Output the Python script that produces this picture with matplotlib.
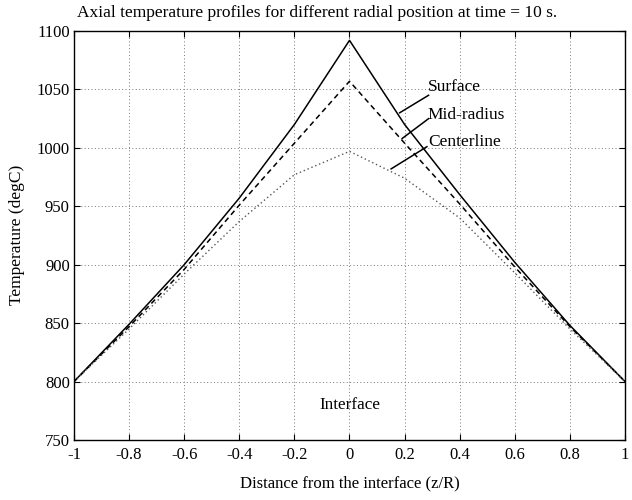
import matplotlib
matplotlib.use("Agg")
import matplotlib.pyplot as plt

# Axial positions (z/R) and temperatures (degC) at t = 10 s
z = [-1.0, -0.8, -0.6, -0.4, -0.2, 0.0, 0.2, 0.4, 0.6, 0.8, 1.0]
surface = [800, 849, 900, 957, 1020, 1092, 1020, 960, 902, 848, 800]
mid_radius = [800, 847, 896, 951, 1004, 1057, 1004, 952, 898, 847, 800]
centerline = [800, 845, 892, 937, 977, 997, 974, 940, 893, 845, 800]

xticks = [-1, -0.8, -0.6, -0.4, -0.2, 0, 0.2, 0.4, 0.6, 0.8, 1]
xticklabels = ["-1", "-0.8", "-0.6", "-0.4", "-0.2", "0", "0.2", "0.4", "0.6", "0.8", "1"]
yticks = [750, 800, 850, 900, 950, 1000, 1050, 1100]

plt.rcParams["font.family"] = ["Liberation Serif", "DejaVu Serif"]

fig = plt.figure(figsize=(6.32, 5.0), dpi=100)
ax = fig.add_axes([0.117, 0.12, 0.872, 0.818])

ax.plot(z, surface, color="black", linestyle="-", linewidth=1.1)
ax.plot(z, mid_radius, color="black", linestyle=(0, (3.5, 2.5)), linewidth=1.1)
ax.plot(z, centerline, color="#555555", linestyle=(0, (1, 2)), linewidth=1.0)

ax.set_xlim(-1, 1)
ax.set_ylim(750, 1100)
ax.set_xticks(xticks)
ax.set_xticklabels(xticklabels)
ax.set_yticks(yticks)
ax.tick_params(direction="in", length=4, width=0.8, labelsize=12,
               top=True, right=True)
ax.tick_params(axis="x", pad=5)
ax.tick_params(axis="y", pad=3)
ax.grid(True, color="#777777", linestyle=(0, (1, 2.5)), linewidth=0.7)
for s in ax.spines.values():
    s.set_linewidth(1.0)

# Curve labels with leader lines
labels = [("Surface", 0.284, 1052, (0.287, 1045), (0.182, 1030)),
          ("Mid-radius", 0.284, 1028, (0.287, 1025), (0.191, 1008)),
          ("Centerline", 0.284, 1005, (0.281, 1001), (0.151, 982))]
for text, tx, ty, p0, p1 in labels:
    ax.text(tx, ty, text, fontsize=12.5, ha="left", va="center")
    ax.plot([p0[0], p1[0]], [p0[1], p1[1]], color="black", linewidth=1.1)

ax.text(0.0, 780, "Interface", fontsize=12.3, ha="center", va="center")

fig.text(0.502, 0.974, "Axial temperature profiles for different radial position at time = 10 s.",
         fontsize=12.5, ha="center", va="center")
fig.text(0.553, 0.034, "Distance from the interface (z/R)", fontsize=12,
         ha="center", va="center")
fig.text(0.027, 0.53, "Temperature (degC)", fontsize=12.5, rotation=90,
         ha="center", va="center")

fig.savefig("out.png", dpi=100)
